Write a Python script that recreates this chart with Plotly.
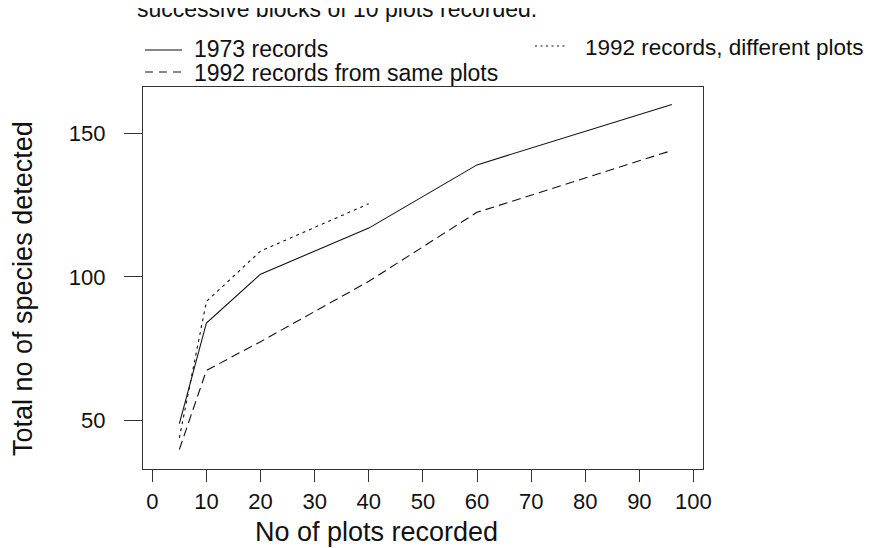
import plotly.graph_objects as go

# ---- data ----
plots_1973 = [5, 10, 20, 40, 60, 96]
species_1973 = [49, 84, 101, 117, 139, 160]

plots_1992_same = [5, 10, 20, 40, 60, 96]
species_1992_same = [40, 67.5, 77.5, 98.5, 122.5, 144]

plots_1992_diff = [5, 10, 20, 40]
species_1992_diff = [44, 91.5, 109, 125.5]

x_ticks = [0, 10, 20, 30, 40, 50, 60, 70, 80, 90, 100]
y_ticks = [50, 100, 150]

names = ["1973 records", "1992 records, different plots", "1992 records from same plots"]

W, H = 869, 548
L, R, T, B = 143, 166, 87, 79
PW, PH = W - L - R, H - T - B


def px(x):
    return (x - L) / PW


def py(y):
    return (H - B - y) / PH


FONT = "Liberation Sans, Arial, Helvetica, sans-serif"
INK = "#111111"

fig = go.Figure()
fig.add_trace(go.Scatter(x=plots_1973, y=species_1973, mode="lines", name=names[0],
                         line=dict(color=INK, width=1.1, dash="solid")))
fig.add_trace(go.Scatter(x=plots_1992_diff, y=species_1992_diff, mode="lines", name=names[1],
                         line=dict(color=INK, width=1.1, dash="3px,4px")))
fig.add_trace(go.Scatter(x=plots_1992_same, y=species_1992_same, mode="lines", name=names[2],
                         line=dict(color=INK, width=1.1, dash="9px,5px")))

fig.update_layout(
    width=W, height=H,
    margin=dict(l=L, r=R, t=T, b=B, autoexpand=False),
    paper_bgcolor="white", plot_bgcolor="white",
    showlegend=False,
    font=dict(family=FONT, color=INK),
)
fig.update_xaxes(range=[-1.72, 101.76], tickmode="array", tickvals=x_ticks,
                 ticks="outside", ticklen=12, tickwidth=1.2, tickcolor="#333",
                 showline=True, mirror=True, linecolor="#333", linewidth=1.3,
                 showgrid=False, zeroline=False, tickfont=dict(size=22, family=FONT, color=INK),
                 ticklabelstandoff=0)
fig.update_yaxes(range=[33.2, 166.1], tickmode="array", tickvals=y_ticks,
                 ticks="outside", ticklen=18, tickwidth=1.2, tickcolor="#333",
                 showline=True, mirror=True, linecolor="#333", linewidth=1.3,
                 showgrid=False, zeroline=False, tickfont=dict(size=22, family=FONT, color=INK),
                 ticklabelstandoff=14)

ann = []
# caption line, only its lower part shows at the top edge
ann.append(dict(text="successive blocks of 10 plots recorded.", xref="paper", yref="paper",
                x=px(135), y=py(24), xanchor="left", yanchor="bottom", showarrow=False,
                font=dict(size=23, family=FONT, color=INK)))
ann.append(dict(text=" ", xref="paper", yref="paper", x=px(0), y=py(0),
                xanchor="left", yanchor="top", width=W, height=8, bgcolor="white",
                borderpad=0, borderwidth=0, showarrow=False))
# axis titles
ann.append(dict(text="No of plots recorded", xref="paper", yref="paper",
                x=px(376), y=py(532), xanchor="center", yanchor="middle", showarrow=False,
                font=dict(size=27, family=FONT, color=INK)))
ann.append(dict(text="Total no of species detected", xref="paper", yref="paper",
                x=px(23), y=py(289), xanchor="center", yanchor="middle", showarrow=False,
                textangle=-90, font=dict(size=27, family=FONT, color=INK)))

# legend (manual, R-style)
legend_items = [
    (names[0], 145, 182, 50, 192, 49, "solid", 23),
    (names[1], 535, 567, 46, 583, 48, "2px,3.5px", 22.5),
    (names[2], 145, 182, 72, 192, 73, "8px,6px", 23),
]
shapes = []
for label, x0, x1, ly, tx, ty, dash, fs in legend_items:
    shapes.append(dict(type="line", xref="paper", yref="paper", x0=px(x0), x1=px(x1),
                       y0=py(ly), y1=py(ly), line=dict(color=INK, width=1.1, dash=dash)))
    ann.append(dict(text=label, xref="paper", yref="paper", x=px(tx), y=py(ty),
                    xanchor="left", yanchor="middle", showarrow=False,
                    font=dict(size=fs, family=FONT, color=INK)))

fig.update_layout(annotations=ann, shapes=shapes)
fig.write_html("out.html")
